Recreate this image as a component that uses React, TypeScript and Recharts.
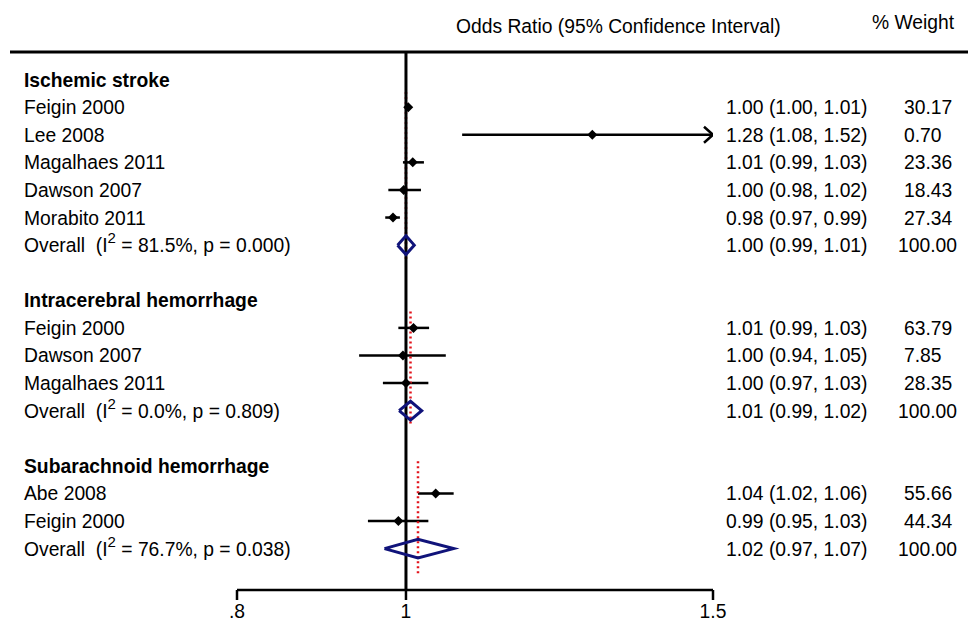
import React from "react"
import { ScatterChart, Scatter, XAxis, YAxis, ReferenceLine } from "recharts"

const FONT = '"Liberation Sans", Arial, Helvetica, sans-serif'
const NAVY = "#10137a"
const RED = "#e3131b"

// one entry per row of the plot, top to bottom
const rowLabels = [
  "Ischemic stroke", "Feigin 2000", "Lee 2008", "Magalhaes 2011", "Dawson 2007", "Morabito 2011", "Overall", "",
  "Intracerebral hemorrhage", "Feigin 2000", "Dawson 2007", "Magalhaes 2011", "Overall", "",
  "Subarachnoid hemorrhage", "Abe 2008", "Feigin 2000", "Overall",
]
const rowKinds = [
  "group", "study", "study", "study", "study", "study", "overall", "blank",
  "group", "study", "study", "study", "overall", "blank",
  "group", "study", "study", "overall",
]
const orText = [
  "", "1.00 (1.00, 1.01)", "1.28 (1.08, 1.52)", "1.01 (0.99, 1.03)", "1.00 (0.98, 1.02)", "0.98 (0.97, 0.99)", "1.00 (0.99, 1.01)", "",
  "", "1.01 (0.99, 1.03)", "1.00 (0.94, 1.05)", "1.00 (0.97, 1.03)", "1.01 (0.99, 1.02)", "",
  "", "1.04 (1.02, 1.06)", "0.99 (0.95, 1.03)", "1.02 (0.97, 1.07)",
]
const weightText = [
  "", "30.17", "0.70", "23.36", "18.43", "27.34", "100.00", "",
  "", "63.79", "7.85", "28.35", "100.00", "",
  "", "55.66", "44.34", "100.00",
]
// unrounded estimates as drawn
const orPlot = [null, 1.003, 1.279, 1.009, 0.997, 0.983, 1.0, null, null, 1.01, 0.996, 1.0, 1.006, null, null, 1.04, 0.99, 1.016]
const ciLowPlot = [null, 1.0, 1.077, 0.996, 0.977, 0.973, 0.989, null, null, 0.99, 0.94, 0.97, 0.991, null, null, 1.016, 0.951, 0.972]
const ciHighPlot = [null, 1.006, 1.52, 1.024, 1.02, 0.992, 1.011, null, null, 1.031, 1.054, 1.03, 1.021, null, null, 1.065, 1.03, 1.065]

const i2Text = ["81.5%", "0.0%", "76.7%"]
const pText = ["0.000", "0.809", "0.038"]

// pooled estimate reference lines (dotted red), per subgroup
const pooledX = [1.0, 1.006, 1.016]
const pooledFrom = [0.45, 8.41, 13.83]
const pooledTo = [6.6, 12.57, 17.96]

const xTicks = [0.8, 1, 1.5]
const xTickLabels = [".8", "1", "1.5"]
const X_MIN = 0.8
const X_MAX = 1.5
const DIAMOND_H = 0.34

const rowIdx = rowLabels.map((_, i) => i)

const markerData = rowIdx
  .filter((i) => rowKinds[i] === "study")
  .map((i) => ({ x: orPlot[i] as number, y: i }))

const arrowData = rowIdx
  .filter((i) => rowKinds[i] === "study" && (ciHighPlot[i] as number) > X_MAX)
  .map((i) => ({ x: X_MAX, y: i }))

const ciRows = rowIdx.filter((i) => rowKinds[i] === "study")
const overallRows = rowIdx.filter((i) => rowKinds[i] === "overall")

const diamonds = overallRows.map((i) => {
  const lo = ciLowPlot[i] as number
  const est = orPlot[i] as number
  const hi = ciHighPlot[i] as number
  return [
    { x: lo, y: i },
    { x: est, y: i - DIAMOND_H },
    { x: hi, y: i },
    { x: est, y: i + DIAMOND_H },
    { x: lo, y: i },
  ]
})

const textStyle = { fontFamily: FONT, fontSize: 19.3, fill: "#000", whiteSpace: "pre" as const }

function LeftTick(props: any) {
  const { y, payload } = props
  const i = payload.value as number
  const kind = rowKinds[i]
  if (kind === "blank") return null
  if (kind === "overall") {
    const k = overallRows.indexOf(i)
    return (
      <text x={24} y={y + 7} style={textStyle}>
        <tspan>Overall  (I</tspan>
        <tspan dy={-9} style={{ fontSize: 15 }}>2</tspan>
        <tspan dy={9}>{` = ${i2Text[k]}, p = ${pText[k]})`}</tspan>
      </text>
    )
  }
  return (
    <text x={24} y={y + 7} style={textStyle} fontWeight={kind === "group" ? "bold" : "normal"}>
      {rowLabels[i]}
    </text>
  )
}

function RightTick(props: any) {
  const { y, payload } = props
  const i = payload.value as number
  if (!orText[i]) return null
  const w = weightText[i]
  return (
    <g>
      <text x={726} y={y + 7} style={textStyle}>{orText[i]}</text>
      <text x={w.length > 5 ? 898 : 904} y={y + 7} style={textStyle}>{w}</text>
    </g>
  )
}

function Marker(props: any) {
  const { cx, cy } = props
  const r = 5
  return <polygon points={`${cx - r},${cy} ${cx},${cy - r} ${cx + r},${cy} ${cx},${cy + r}`} fill="#000" />
}

function Arrow(props: any) {
  const { cx, cy } = props
  return (
    <path
      d={`M${cx - 9},${cy - 8} L${cx},${cy} L${cx - 9},${cy + 8}`}
      fill="none"
      stroke="#000"
      strokeWidth={2.5}
    />
  )
}

export default function App() {
  return (
    <div style={{ position: "absolute", left: 0, top: 0, background: "#fff" }}>
      <ScatterChart width={968} height={625} margin={{ top: 52, right: 0, bottom: 0, left: 0 }}>
        <text x={456} y={33} style={textStyle}>Odds Ratio (95% Confidence Interval)</text>
        <text x={872} y={29} style={textStyle}>% Weight</text>
        <line x1={10} y1={52} x2={968} y2={52} stroke="#000" strokeWidth={3} />

        <XAxis
          type="number"
          dataKey="x"
          scale="log"
          domain={[X_MIN, X_MAX]}
          allowDataOverflow
          ticks={xTicks}
          interval={0}
          tickFormatter={(v: number) => xTickLabels[xTicks.indexOf(v)] ?? String(v)}
          height={35}
          stroke="#000"
          strokeWidth={2.5}
          tickSize={10}
          tickMargin={4}
          tick={{ fill: "#000", fontSize: 19.3, fontFamily: FONT }}
        />
        <YAxis
          type="number"
          dataKey="y"
          domain={[-1, 18.5]}
          reversed
          allowDataOverflow
          ticks={rowIdx}
          interval={0}
          width={237}
          axisLine={false}
          tickLine={false}
          tick={(p: any) => <LeftTick {...p} />}
        />
        <YAxis
          yAxisId="r"
          orientation="right"
          type="number"
          dataKey="y"
          domain={[-1, 18.5]}
          reversed
          allowDataOverflow
          ticks={rowIdx}
          interval={0}
          width={255}
          axisLine={false}
          tickLine={false}
          tick={(p: any) => <RightTick {...p} />}
        />

        <ReferenceLine
          segment={[{ x: pooledX[0], y: pooledFrom[0] }, { x: pooledX[0], y: pooledTo[0] }]}
          stroke={RED}
          strokeWidth={2.5}
          strokeDasharray="2 3"
          ifOverflow="visible"
        />
        <ReferenceLine x={1} stroke="#000" strokeWidth={3} />

        {ciRows.map((i) => (
          <ReferenceLine
            key={`ci-${i}`}
            segment={[
              { x: ciLowPlot[i] as number, y: i },
              { x: Math.min(ciHighPlot[i] as number, X_MAX), y: i },
            ]}
            stroke="#000"
            strokeWidth={2.5}
            ifOverflow="visible"
          />
        ))}

        {diamonds.map((d, k) => (
          <Scatter
            key={`dia-${k}`}
            data={d}
            line={{ stroke: NAVY, strokeWidth: 3, strokeLinejoin: "miter" }}
            shape={() => <g />}
            isAnimationActive={false}
          />
        ))}

        {pooledX.slice(1).map((x, k) => (
          <ReferenceLine
            key={`pool-${k}`}
            segment={[{ x, y: pooledFrom[k + 1] }, { x, y: pooledTo[k + 1] }]}
            stroke={RED}
            strokeWidth={2.5}
            strokeDasharray="2 3"
            ifOverflow="visible"
          />
        ))}

        <Scatter data={markerData} shape={(p: any) => <Marker {...p} />} isAnimationActive={false} />
        <Scatter data={arrowData} shape={(p: any) => <Arrow {...p} />} isAnimationActive={false} />
      </ScatterChart>
    </div>
  )
}
